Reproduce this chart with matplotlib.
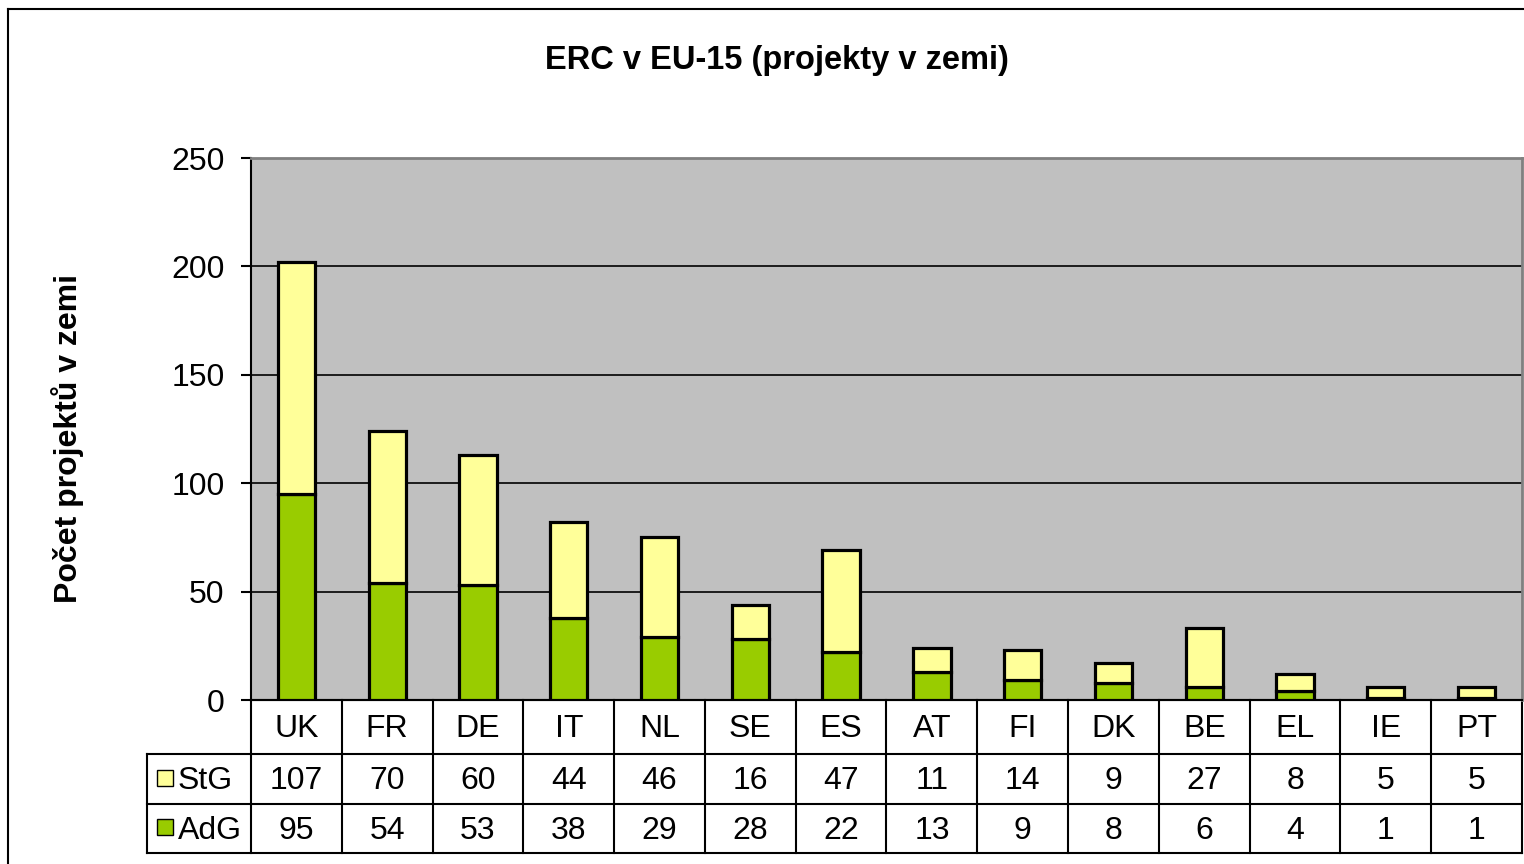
import matplotlib
matplotlib.use("Agg")
import matplotlib.pyplot as plt
from matplotlib.patches import Rectangle
from matplotlib.lines import Line2D
import matplotlib.transforms as mtransforms

plt.rcParams['font.family'] = ['Liberation Sans', 'DejaVu Sans']

# data
countries = ['UK', 'FR', 'DE', 'IT', 'NL', 'SE', 'ES', 'AT', 'FI', 'DK', 'BE', 'EL', 'IE', 'PT']
stg = [107, 70, 60, 44, 46, 16, 47, 11, 14, 9, 27, 8, 5, 5]
adg = [95, 54, 53, 38, 29, 28, 22, 13, 9, 8, 6, 4, 1, 1]
series_names = ['StG', 'AdG']
yellow = '#FFFF99'
green = '#99CC00'

fig = plt.figure(figsize=(15.24, 8.64), dpi=100)
ax = fig.add_axes([251 / 1524, 1 - 700 / 864, 1271 / 1524, 542 / 864])
ax.set_facecolor('#C0C0C0')

x = list(range(len(countries)))
ax.bar(x, adg, width=0.41, color=green, edgecolor='black', linewidth=2.3, zorder=3)
ax.bar(x, stg, width=0.41, bottom=adg, color=yellow, edgecolor='black', linewidth=2.3, zorder=3)

ax.set_xlim(-0.5, len(countries) - 0.5)
ax.set_ylim(0, 250)
ax.set_yticks([0, 50, 100, 150, 200, 250])
ax.yaxis.grid(True, color='black', linewidth=1.2, zorder=0)
ax.set_axisbelow(True)
ax.set_xticks([])
ax.tick_params(axis='y', labelsize=23, length=7, width=1.5, direction='out', pad=12)
for s in ['top', 'right']:
    ax.spines[s].set_color('#808080')
    ax.spines[s].set_linewidth(2)
ax.spines['left'].set_linewidth(1.5)
ax.spines['bottom'].set_linewidth(1.5)

ax.set_ylabel('Počet projektů v zemi', fontsize=23, fontweight='bold')
ax.yaxis.set_label_coords(-0.1315, 0.483)
fig.text(777 / 1524, 1 - 60 / 864, 'ERC v EU-15 (projekty v zemi)', ha='center', va='center',
         fontsize=23.5, fontweight='bold')

# data table below the axes
trans = mtransforms.blended_transform_factory(ax.transData, ax.transAxes)
h_px = 542.0
col_px = 1271 / 14
row_edges = [0, -54 / h_px, -104 / h_px, -153 / h_px]
left_lbl = -0.5 - (251 - 147) / col_px
right = len(countries) - 0.5
lw = 1.5
for i, y in enumerate(row_edges):
    x0 = -0.5 if i == 0 else left_lbl
    ax.add_line(Line2D([x0, right], [y, y], transform=trans, color='black', lw=lw, clip_on=False))
for c in range(len(countries) + 1):
    xc = c - 0.5
    ax.add_line(Line2D([xc, xc], [0, row_edges[-1]], transform=trans, color='black', lw=lw, clip_on=False))
ax.add_line(Line2D([left_lbl, left_lbl], [row_edges[1], row_edges[-1]], transform=trans,
                   color='black', lw=lw, clip_on=False))

fs = 23
for i, name in enumerate(countries):
    ax.text(i, (row_edges[0] + row_edges[1]) / 2 - 0.004, name, transform=trans, ha='center', va='center', fontsize=fs)
    ax.text(i, (row_edges[1] + row_edges[2]) / 2 - 0.004, str(stg[i]), transform=trans, ha='center', va='center', fontsize=fs)
    ax.text(i, (row_edges[2] + row_edges[3]) / 2 - 0.004, str(adg[i]), transform=trans, ha='center', va='center', fontsize=fs)

for r, (label, col) in enumerate(zip(series_names, [yellow, green])):
    yc = (row_edges[r + 1] + row_edges[r + 2]) / 2
    sq_w = 16 / col_px
    sq_h = 16 / h_px
    ax.add_patch(Rectangle((left_lbl + 10 / col_px, yc - sq_h / 2 + 0.002), sq_w, sq_h, transform=trans,
                           facecolor=col, edgecolor='black', lw=1, clip_on=False))
    ax.text(left_lbl + 31 / col_px, yc - 0.004, label, transform=trans, ha='left', va='center', fontsize=fs)

# outer chart border (top and left visible)
fig.add_artist(Line2D([8 / 1524, 1], [1 - 9 / 864, 1 - 9 / 864], color='black', lw=1.5))
fig.add_artist(Line2D([8 / 1524, 8 / 1524], [0, 1 - 9 / 864], color='black', lw=1.5))

fig.savefig('out.png', dpi=100)
